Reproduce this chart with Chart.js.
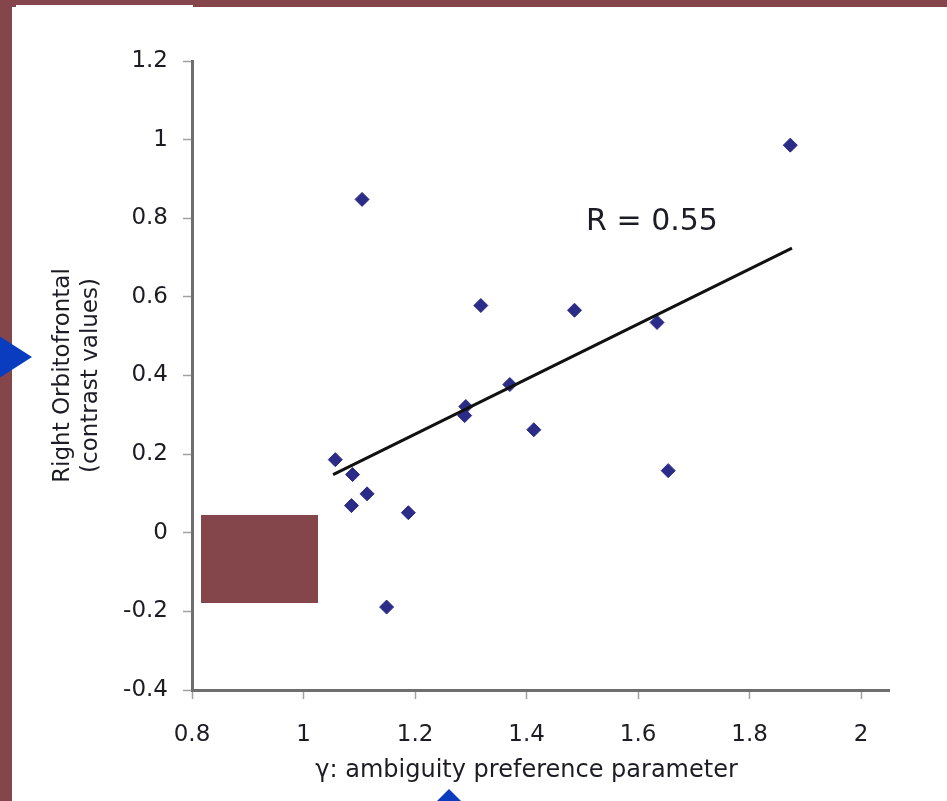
<!DOCTYPE html>
<html>
<head>
<meta charset="utf-8">
<script src="https://cdn.jsdelivr.net/npm/chart.js@4/dist/chart.umd.min.js"></script>
<style>
html,body{margin:0;padding:0;width:947px;height:801px;overflow:hidden;background:#84464b;}
#panel{position:absolute;left:12px;top:7px;width:935px;height:794px;background:#fff;}
#notch{position:absolute;left:16px;top:5px;width:177px;height:2px;background:#fff;}
#chartWrap{position:absolute;left:0;top:0;width:947px;height:801px;}
#box{position:absolute;left:201px;top:515px;width:117px;height:88px;background:#84464b;z-index:5;}
#triL{position:absolute;left:-10px;top:330px;width:0;height:0;border-top:27px solid transparent;border-bottom:27px solid transparent;border-left:42px solid #0a3cc0;z-index:5;}
#triB{position:absolute;left:426px;top:789px;width:0;height:0;border-left:23px solid transparent;border-right:23px solid transparent;border-bottom:23px solid #0a3cc0;z-index:5;}
</style>
</head>
<body>
<div id="panel"></div>
<div id="notch"></div>
<div id="chartWrap"><canvas id="c" width="947" height="801"></canvas></div>
<div id="box"></div>
<div id="triL"></div>
<div id="triB"></div>
<script>
// ---- data ----
const gammaValues    = [1.873, 1.105, 1.318, 1.486, 1.634, 1.370, 1.291, 1.289, 1.413, 1.057, 1.088, 1.654, 1.114, 1.086, 1.188, 1.149];
const contrastValues = [0.986, 0.848, 0.578, 0.566, 0.535, 0.377, 0.321, 0.298, 0.262, 0.186, 0.148, 0.158, 0.099, 0.069, 0.051, -0.189];
const trendX = [1.053, 1.876];
const trendY = [0.148, 0.724];
const xTickValues = [0.8, 1, 1.2, 1.4, 1.6, 1.8, 2];
const yTickValues = [-0.4, -0.2, 0, 0.2, 0.4, 0.6, 0.8, 1, 1.2];
const rLabel = 'R = 0.55';
const rAnchor = [1.625, 0.79];
const xTitle = 'γ: ambiguity preference parameter';
const yTitle = ['Right Orbitofrontal', '(contrast values)'];

const FONT = '"DejaVu Sans", "Lucida Grande", Verdana, sans-serif';
const TEXT = '#1c1c24';

const scatterPts = gammaValues.map((g, i) => ({x: g, y: contrastValues[i]}));
const trendPts = trendX.map((t, i) => ({x: t, y: trendY[i]}));

const textPlugin = {
  id: 'textPlugin',
  afterDraw(chart) {
    const {ctx, scales: {x, y}} = chart;
    ctx.save();
    ctx.fillStyle = TEXT;
    ctx.textAlign = 'center';
    ctx.textBaseline = 'middle';
    ctx.font = '30px ' + FONT;
    ctx.fillText(rLabel, x.getPixelForValue(rAnchor[0]), y.getPixelForValue(rAnchor[1]));
    ctx.font = '24px ' + FONT;
    const cx = (x.getPixelForValue(xTickValues[0]) + x.getPixelForValue(xTickValues[xTickValues.length - 1])) / 2;
    ctx.fillText(xTitle, cx, x.top + 81);
    ctx.restore();
  }
};

new Chart(document.getElementById('c'), {
  data: {
    datasets: [
      {
        type: 'line',
        data: trendPts,
        borderColor: '#111',
        borderWidth: 3,
        pointRadius: 0,
        fill: false,
        order: 0
      },
      {
        type: 'scatter',
        data: scatterPts,
        pointStyle: 'rectRot',
        pointRadius: 7,
        pointBorderWidth: 1,
        backgroundColor: '#2b2b88',
        borderColor: '#2b2b88',
        order: 1
      }
    ]
  },
  options: {
    responsive: false,
    animation: false,
    events: [],
    layout: {padding: {left: 0, top: 61, right: 58, bottom: 0}},
    plugins: {legend: {display: false}, tooltip: {enabled: false}},
    scales: {
      x: {
        type: 'linear',
        min: 0.8,
        max: 2.05,
        afterBuildTicks: s => { s.ticks = xTickValues.map(v => ({value: v})); },
        afterFit: s => { s.height = 111; },
        ticks: {
          callback: v => String(v),
          font: {family: FONT, size: 23},
          color: TEXT,
          padding: 22,
          autoSkip: false,
          maxRotation: 0
        },
        grid: {drawOnChartArea: false, drawTicks: true, tickLength: 9, tickColor: '#a0a0a0', tickWidth: 1.5},
        border: {display: true, color: '#6e6e6e', width: 3}
      },
      y: {
        type: 'linear',
        min: -0.4,
        max: 1.2,
        afterBuildTicks: s => { s.ticks = yTickValues.map(v => ({value: v})); },
        afterFit: s => { s.width = 192; },
        ticks: {
          callback: v => String(v),
          font: {family: FONT, size: 23},
          color: TEXT,
          padding: 15,
          autoSkip: false
        },
        title: {
          display: true,
          text: yTitle,
          font: {family: FONT, size: 23, lineHeight: 1.22},
          color: TEXT,
          padding: {top: 49, bottom: 0}
        },
        grid: {drawOnChartArea: false, drawTicks: true, tickLength: 9, tickColor: '#a0a0a0', tickWidth: 1.5},
        border: {display: true, color: '#6e6e6e', width: 3}
      }
    }
  },
  plugins: [textPlugin]
});
</script>
</body>
</html>
